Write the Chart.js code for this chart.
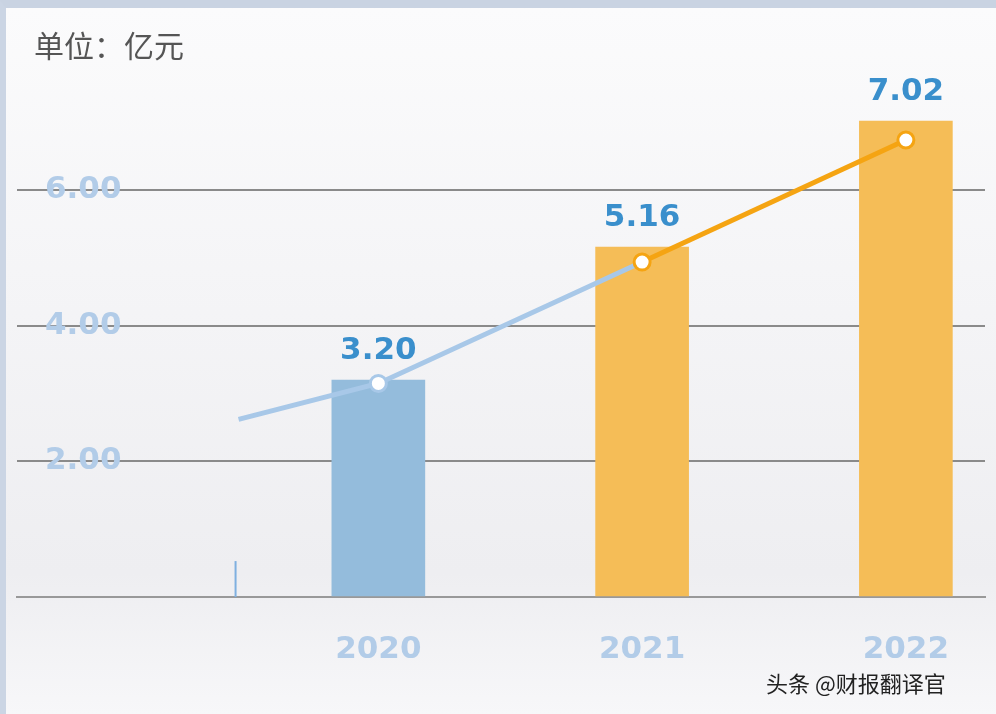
<!DOCTYPE html>
<html><head><meta charset="utf-8">
<script src="https://cdn.jsdelivr.net/npm/chart.js@4"></script>
<style>
html,body{margin:0;padding:0;background:#fff;}
#wrap{width:996px;height:714px;position:relative;background:linear-gradient(#fbfbfc,#eeeef1 80%,#f7f7f9);box-sizing:border-box;border-top:8px solid #c9d3e2;border-left:6px solid #cbd5e4;}
</style></head><body>
<div id="wrap"><canvas id="c" width="990" height="706"></canvas></div>
<script>
const years = [2020, 2021, 2022];
const barValues = [3.20, 5.16, 7.02];
const barLabels = ['3.20', '5.16', '7.02'];
const lineYears = [2019.47, 2020, 2021, 2022];
const lineValues = [2.62, 3.15, 4.94, 6.74];
const yTicks = [2, 4, 6];
const blue = '#94bcdc', orange = '#f5bd57', lineOrange = '#f5a412', lineBlue = '#a8c8e8';
const barColors = [blue, orange, orange];

const labelPlugin = {
  id: 'lbl',
  afterDatasetsDraw(chart) {
    const {ctx} = chart;
    const meta = chart.getDatasetMeta(1);
    ctx.save();
    ctx.font = 'bold 31px "DejaVu Sans", sans-serif';
    ctx.fillStyle = '#3a8fcc';
    ctx.textAlign = 'center'; ctx.textBaseline = 'bottom';
    meta.data.forEach((b, i) => ctx.fillText(barLabels[i], b.x, b.y - 14));
    const xs = chart.scales.x, ys = chart.scales.y;
    const px = xs.getPixelForValue(lineYears[0]) - 3;
    ctx.strokeStyle = '#7fb0e0'; ctx.lineWidth = 2;
    ctx.beginPath(); ctx.moveTo(px, ys.getPixelForValue(0)); ctx.lineTo(px, ys.getPixelForValue(0.53)); ctx.stroke();
    ctx.font = '30px "Noto Sans CJK SC", sans-serif';
    ctx.fillStyle = '#555'; ctx.textAlign = 'left'; ctx.textBaseline = 'middle';
    ctx.fillText('单位：亿元', 28, 38);
    ctx.font = '22px "Noto Sans CJK SC", sans-serif';
    ctx.fillStyle = '#222';
    ctx.fillText('头条 @财报翻译官', 760, 676);
    ctx.restore();
  }
};

new Chart(document.getElementById('c'), {
  data: {
    datasets: [
      { type: 'line', data: lineYears.map((x, i) => ({x, y: lineValues[i]})),
        borderWidth: 5, tension: 0,
        segment: { borderColor: s => s.p0DataIndex < 2 ? lineBlue : lineOrange },
        pointRadius: c => c.dataIndex === 0 ? 0 : 8,
        pointBackgroundColor: '#fff', pointBorderWidth: 3,
        pointBorderColor: c => c.dataIndex < 2 ? lineBlue : lineOrange },
      { type: 'bar', data: years.map((x, i) => ({x, y: barValues[i]})),
        backgroundColor: barColors, barThickness: 93 }
    ]
  },
  options: {
    responsive: false, animation: false,
    layout: { padding: { left: 0, right: 0, top: 3 } },
    plugins: { legend: { display: false }, tooltip: { enabled: false } },
    scales: {
      x: { type: 'linear', min: 2018.63, max: 2022.3, offset: false,
        afterBuildTicks: s => { s.ticks = years.map(v => ({value: v})); },
        afterFit: s => { s.height = 117; },
        grid: { display: false, offset: false }, border: { color: '#999', width: 2 },
        ticks: { padding: 26, color: '#b2cce8', font: { size: 31, weight: 'bold', family: 'DejaVu Sans' },
          callback: v => String(v) } },
      y: { min: 0, max: 8,
        afterBuildTicks: s => { s.ticks = [0, ...yTicks].map(v => ({value: v})); },
        afterFit: s => { s.width = 0; },
        border: { display: false },
        grid: { color: '#8a8a8a', lineWidth: 2, drawTicks: false },
        ticks: { mirror: true, padding: 28, color: '#b2cce8',
          font: { size: 31, weight: 'bold', family: 'DejaVu Sans' },
          callback: v => v === 0 ? '' : v.toFixed(2) } }
    }
  },
  plugins: [labelPlugin]
});
</script></body></html>
